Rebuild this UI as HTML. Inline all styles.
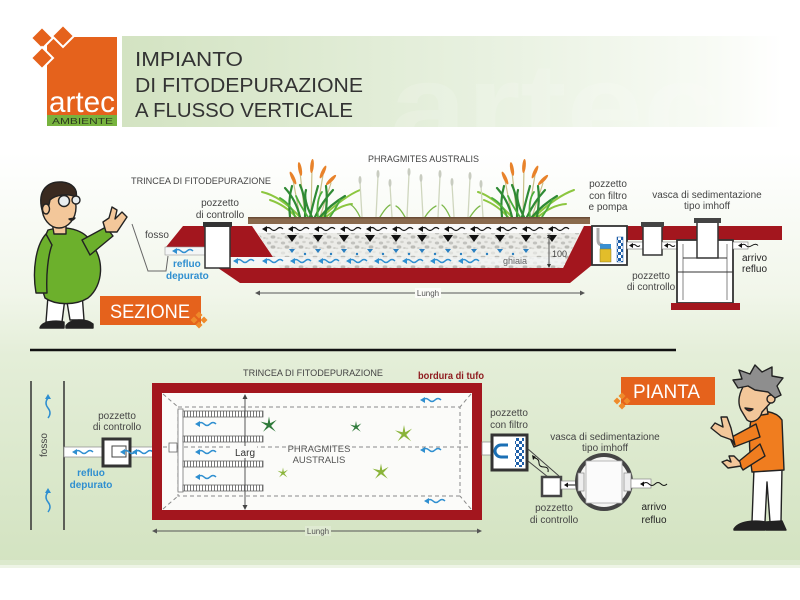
<!DOCTYPE html>
<html><head><meta charset="utf-8"><style>
html,body{margin:0;padding:0;background:#fff;}
svg{display:block;}
text{font-family:"Liberation Sans",sans-serif;}
</style></head><body>
<svg width="800" height="600" viewBox="0 0 800 600" xmlns="http://www.w3.org/2000/svg">
<defs>
<linearGradient id="bg" x1="0" y1="0" x2="0" y2="1">
<stop offset="0" stop-color="#ffffff"/><stop offset="0.27" stop-color="#ffffff"/>
<stop offset="0.52" stop-color="#f1f6ea"/><stop offset="0.63" stop-color="#e4eed8"/>
<stop offset="1" stop-color="#d3e3c1"/></linearGradient>
<linearGradient id="ban" x1="0" y1="0" x2="1" y2="0">
<stop offset="0" stop-color="#d3e3c2"/><stop offset="0.55" stop-color="#e8f1e0"/>
<stop offset="0.9" stop-color="#f8fbf5"/><stop offset="1" stop-color="#ffffff"/></linearGradient>
<pattern id="gr" width="14" height="10" patternUnits="userSpaceOnUse"><rect width="14" height="10" fill="#ebebe7"/><ellipse cx="3" cy="3" rx="2.2" ry="1.5" fill="#c2c2be"/><ellipse cx="10" cy="2" rx="1.8" ry="1.2" fill="#d2d2cd"/><ellipse cx="7" cy="7" rx="2.4" ry="1.6" fill="#bbbbb6"/><ellipse cx="12.5" cy="8" rx="1.4" ry="1" fill="#cfcfca"/><ellipse cx="1" cy="8.5" rx="1.3" ry="1" fill="#d8d8d3"/></pattern>
<pattern id="tk" width="3" height="6" patternUnits="userSpaceOnUse"><rect width="3" height="6" fill="#fff"/><line x1="1.5" y1="0" x2="1.5" y2="6" stroke="#777" stroke-width="1"/></pattern>
<pattern id="ck" width="6" height="6" patternUnits="userSpaceOnUse"><rect width="6" height="6" fill="#fff"/><rect width="3" height="3" fill="#1e5fa8"/><rect x="3" y="3" width="3" height="3" fill="#1e5fa8"/></pattern>
<clipPath id="bedc"><path d="M252 224 L584 224 L563 268 L280 268 Z"/></clipPath>
<clipPath id="banc"><rect x="122" y="36" width="660" height="91"/></clipPath>
<g id="wb"><path d="M3 0 q3 -3 6 0 t6 0 t6 0" fill="none" stroke="#2f8fd0" stroke-width="1.5"/><path d="M0 0 l5 -3 v6z" fill="#2f8fd0"/></g>
<g id="wk"><path d="M3 0 q3 -3 6 0 t6 0 t6 0" fill="none" stroke="#111" stroke-width="1.2"/><path d="M0 0 l5 -3 v6z" fill="#111"/></g>
<g id="star"><path d="M0 -10 L1.5 -2 L9 -6 L2.5 1 L8 8 L0 2.5 L-7 8 L-2.5 1 L-10 -4 L-1.5 -2 Z"/></g>
<g id="dia"><path d="M0 -3.5 L3.5 0 L0 3.5 L-3.5 0 Z"/></g>
</defs>

<rect width="800" height="565" fill="url(#bg)"/>
<rect y="560" width="800" height="8" fill="#e2edd6" opacity="0.6"/>

<!-- header banner -->
<rect x="122" y="36" width="660" height="91" fill="url(#ban)"/>
<g clip-path="url(#banc)"><text x="390" y="150" font-size="125" font-weight="bold" fill="#ffffff" opacity="0.15" textLength="330" lengthAdjust="spacingAndGlyphs">artec</text></g>
<text x="135" y="66" font-size="20" fill="#333" textLength="108" lengthAdjust="spacingAndGlyphs">IMPIANTO</text>
<text x="135" y="92" font-size="20" fill="#333" textLength="228" lengthAdjust="spacingAndGlyphs">DI FITODEPURAZIONE</text>
<text x="135" y="117" font-size="20" fill="#333" textLength="218" lengthAdjust="spacingAndGlyphs">A FLUSSO VERTICALE</text>

<!-- logo -->
<rect x="47" y="37" width="70" height="78" fill="#e5621c"/>
<g fill="#e5621c" stroke="#fff" stroke-width="2">
<path d="M42 27 L53 38 L42 49 L31 38 Z"/><path d="M63 25 L74 36 L63 47 L52 36 Z"/><path d="M42 47 L53 58 L42 69 L31 58 Z"/>
</g>
<rect x="47" y="115" width="70" height="11" fill="#77b33e"/>
<text x="49" y="112" font-size="30" fill="#fff" font-family="Liberation Serif,serif" textLength="66" lengthAdjust="spacingAndGlyphs">artec</text>
<text x="52" y="124" font-size="8" fill="#2c3a20" textLength="61" lengthAdjust="spacingAndGlyphs">AMBIENTE</text>

<!-- ================= SEZIONE ================= -->
<text x="131" y="184" font-size="9.5" fill="#444" textLength="140" lengthAdjust="spacingAndGlyphs">TRINCEA DI FITODEPURAZIONE</text>
<text x="368" y="162" font-size="9.5" fill="#444" textLength="111" lengthAdjust="spacingAndGlyphs">PHRAGMITES AUSTRALIS</text>

<!-- plants -->
<g fill="none" stroke-linecap="round">
<g stroke="#c9c08a" stroke-width="1.2">
<path d="M300 217 L293 180"/><path d="M305 217 L300 172"/><path d="M311 217 L312 168"/><path d="M316 217 L323 175"/><path d="M320 217 L331 183"/>
<path d="M512 217 L505 180"/><path d="M517 217 L512 172"/><path d="M523 217 L524 168"/><path d="M528 217 L535 175"/><path d="M532 217 L543 183"/>
</g>
<g stroke="#8cc63f" stroke-width="2">
<path d="M300 217 Q280 196 262 192"/><path d="M322 217 Q345 196 360 190"/><path d="M296 217 Q285 205 270 200"/><path d="M326 217 Q340 205 352 204"/>
<path d="M512 217 Q492 196 478 192"/><path d="M534 217 Q557 196 574 190"/><path d="M508 217 Q497 205 484 200"/><path d="M538 217 Q552 205 566 204"/>
</g>
<g stroke="#2f8a34" stroke-width="2.2">
<path d="M300 217 Q296 200 285 188"/><path d="M305 217 Q306 198 300 185"/><path d="M310 217 Q314 200 318 186"/><path d="M315 217 Q322 202 333 190"/><path d="M320 217 Q330 205 345 196"/><path d="M290 217 Q288 200 292 186"/><path d="M325 217 Q328 200 326 186"/><path d="M312 217 Q303 200 306 190"/>
<path d="M512 217 Q508 200 497 188"/><path d="M517 217 Q518 198 512 185"/><path d="M522 217 Q526 200 530 186"/><path d="M527 217 Q534 202 545 190"/><path d="M532 217 Q542 205 557 196"/><path d="M502 217 Q500 200 504 186"/><path d="M537 217 Q540 200 538 186"/><path d="M524 217 Q515 200 518 190"/>
</g>
<g stroke="#4cae3c" stroke-width="1.8">
<path d="M295 217 Q292 205 280 198"/><path d="M318 217 Q316 200 322 192"/><path d="M308 217 Q300 205 296 196"/><path d="M330 217 Q336 208 340 200"/>
<path d="M507 217 Q504 205 492 198"/><path d="M530 217 Q528 200 534 192"/><path d="M520 217 Q512 205 508 196"/><path d="M542 217 Q548 208 552 200"/>
</g>
<g stroke="#cfd6be" stroke-width="1.3">
<path d="M362 217 L360 182"/><path d="M376 217 L378 176"/><path d="M392 217 L390 185"/><path d="M407 217 L409 174"/><path d="M423 217 L421 180"/><path d="M438 217 L440 176"/><path d="M454 217 L452 184"/><path d="M468 217 L470 178"/><path d="M483 217 L481 186"/>
</g>
<g stroke="#7cb84a" stroke-width="1.3">
<path d="M360 217 Q356 208 350 204"/><path d="M380 217 Q386 207 390 205"/><path d="M405 217 Q400 208 396 206"/><path d="M425 217 Q430 209 436 206"/><path d="M450 217 Q446 208 442 205"/><path d="M470 217 Q476 208 480 206"/>
</g>
</g>
<g fill="#e8822a">
<ellipse cx="293" cy="178" rx="1.8" ry="7" transform="rotate(-25 293 178)"/><ellipse cx="300" cy="169" rx="1.8" ry="7" transform="rotate(-10 300 169)"/><ellipse cx="312" cy="166" rx="1.8" ry="7" transform="rotate(5 312 166)"/><ellipse cx="323" cy="172" rx="1.8" ry="7" transform="rotate(25 323 172)"/><ellipse cx="331" cy="180" rx="1.8" ry="7" transform="rotate(45 331 180)"/>
<ellipse cx="505" cy="178" rx="1.8" ry="7" transform="rotate(-25 505 178)"/><ellipse cx="512" cy="169" rx="1.8" ry="7" transform="rotate(-10 512 169)"/><ellipse cx="524" cy="166" rx="1.8" ry="7" transform="rotate(5 524 166)"/><ellipse cx="535" cy="172" rx="1.8" ry="7" transform="rotate(25 535 172)"/><ellipse cx="543" cy="180" rx="1.8" ry="7" transform="rotate(45 543 180)"/>
</g>
<g fill="#c8ccc0">
<ellipse cx="360" cy="180" rx="1.5" ry="4"/><ellipse cx="378" cy="174" rx="1.5" ry="4"/><ellipse cx="390" cy="183" rx="1.5" ry="4"/><ellipse cx="409" cy="172" rx="1.5" ry="4"/><ellipse cx="421" cy="178" rx="1.5" ry="4"/><ellipse cx="440" cy="174" rx="1.5" ry="4"/><ellipse cx="452" cy="182" rx="1.5" ry="4"/><ellipse cx="470" cy="176" rx="1.5" ry="4"/><ellipse cx="481" cy="184" rx="1.5" ry="4"/>
</g>

<!-- soil strip -->
<rect x="248" y="217" width="342" height="7" fill="#8a6a4e"/>
<rect x="248" y="217" width="342" height="1.5" fill="#6a4c36"/>

<!-- red ground -->
<path d="M183 226 L205 226 L205 247 L166 247 Z" fill="#a3161e"/>
<path d="M230 226 L252 226 L273 257 L230 257 Z" fill="#a3161e"/>
<path d="M218 268 L563 268 L584 226 L592 226 L592 265 L570 283 L240 283 Z" fill="#a3161e"/>
<path d="M627 226 L782 226 L782 240 L627 240 Z" fill="#a3161e"/>

<!-- bed -->
<g clip-path="url(#bedc)">
<rect x="250" y="224" width="340" height="46" fill="url(#gr)"/>
<rect x="250" y="224" width="340" height="9" fill="#fafafa"/>
<rect x="250" y="249" width="340" height="7" fill="#f2f3f0" opacity="0.6"/>
</g>
<rect x="230" y="257" width="60" height="8" fill="#f4f6f6"/>
<rect x="290" y="257" width="275" height="8" fill="#f4f6f6" opacity="0.7"/>
<rect x="165" y="247" width="40" height="8" fill="#f4f6f6" stroke="#999" stroke-width="0.6"/>
<g>
<use href="#wk" x="262" y="229"/><use href="#wk" x="288" y="229"/><use href="#wk" x="314" y="229"/><use href="#wk" x="340" y="229"/><use href="#wk" x="366" y="229"/><use href="#wk" x="392" y="229"/><use href="#wk" x="418" y="229"/><use href="#wk" x="444" y="229"/><use href="#wk" x="470" y="229"/><use href="#wk" x="496" y="229"/><use href="#wk" x="522" y="229"/><use href="#wk" x="548" y="229"/>
</g>
<g fill="#111">
<path d="M287 235 h10 l-5 7z"/><path d="M313 235 h10 l-5 7z"/><path d="M339 235 h10 l-5 7z"/><path d="M365 235 h10 l-5 7z"/><path d="M391 235 h10 l-5 7z"/><path d="M417 235 h10 l-5 7z"/><path d="M443 235 h10 l-5 7z"/><path d="M469 235 h10 l-5 7z"/><path d="M495 235 h10 l-5 7z"/><path d="M521 235 h10 l-5 7z"/><path d="M547 235 h10 l-5 7z"/>
</g>
<g fill="#2a7fc0">
<path d="M289 249 h6 l-3 4z"/><path d="M315 249 h6 l-3 4z"/><path d="M341 249 h6 l-3 4z"/><path d="M367 249 h6 l-3 4z"/><path d="M393 249 h6 l-3 4z"/><path d="M419 249 h6 l-3 4z"/><path d="M445 249 h6 l-3 4z"/><path d="M471 249 h6 l-3 4z"/><path d="M497 249 h6 l-3 4z"/><path d="M523 249 h6 l-3 4z"/>
<circle cx="305" cy="254" r="1.2"/><circle cx="331" cy="254" r="1.2"/><circle cx="357" cy="254" r="1.2"/><circle cx="383" cy="254" r="1.2"/><circle cx="409" cy="254" r="1.2"/><circle cx="435" cy="254" r="1.2"/><circle cx="461" cy="254" r="1.2"/><circle cx="487" cy="254" r="1.2"/><circle cx="513" cy="254" r="1.2"/>
</g>
<g>
<use href="#wb" x="172" y="251"/><use href="#wb" x="233" y="261"/><use href="#wb" x="262" y="261"/><use href="#wb" x="290" y="261"/><use href="#wb" x="318" y="261"/><use href="#wb" x="346" y="261"/><use href="#wb" x="374" y="261"/><use href="#wb" x="402" y="261"/><use href="#wb" x="430" y="261"/><use href="#wb" x="458" y="261"/>
</g>

<!-- fosso (section) -->
<path d="M132 224 L148 271 L166 271 L168 256" fill="none" stroke="#666" stroke-width="1"/>
<text x="145" y="238" font-size="10" fill="#444">fosso</text>
<rect x="205" y="226" width="25" height="42" fill="#fff" stroke="#333" stroke-width="1.5"/>
<rect x="203" y="222" width="29" height="5" fill="#333"/>
<text x="220" y="206" font-size="10" fill="#444" text-anchor="middle">pozzetto</text>
<text x="220" y="218" font-size="10" fill="#444" text-anchor="middle">di controllo</text>
<text x="173" y="267" font-size="10" fill="#2f8fd0" font-weight="bold">refluo</text>
<text x="166" y="279" font-size="10" fill="#2f8fd0" font-weight="bold">depurato</text>

<!-- 100 & ghiaia -->
<line x1="549" y1="236" x2="549" y2="266" stroke="#333" stroke-width="0.8"/>
<path d="M549 234 l-2 4 h4z M549 268 l-2 -4 h4z" fill="#333"/>
<text x="552" y="257" font-size="9" fill="#444">100</text>
<text x="503" y="264" font-size="9" fill="#666">ghiaia</text>

<!-- Lungh section -->
<line x1="257" y1="293" x2="583" y2="293" stroke="#555" stroke-width="1"/>
<path d="M255 293 l5 -2.5 v5z M585 293 l-5 -2.5 v5z" fill="#555"/>
<rect x="415" y="288" width="26" height="10" fill="#fbfcf8"/>
<text x="428" y="296" font-size="8" fill="#555" text-anchor="middle">Lungh</text>

<!-- right section elements -->
<rect x="592" y="226" width="35" height="39" fill="#fff" stroke="#333" stroke-width="1.8"/>
<path d="M598 228 L598 240 Q598 245 603 245" fill="none" stroke="#aaa" stroke-width="3"/>
<rect x="600" y="244" width="11" height="5" fill="#3a8fd0"/>
<rect x="600" y="249" width="11" height="13" fill="#e2bd2a" stroke="#8a7a20" stroke-width="0.5"/>
<rect x="617" y="237" width="6" height="25" fill="url(#ck)" stroke="#1e5fa8" stroke-width="0.5"/>
<rect x="627" y="242" width="16" height="7" fill="#fff" stroke="#777" stroke-width="0.6"/>
<path d="M629 245.5 l4 -2.5 v5z" fill="#111"/><path d="M632 245.5 q2 -2 4 0 t4 0" fill="none" stroke="#111" stroke-width="1"/>
<rect x="643" y="226" width="19" height="29" fill="#fff" stroke="#333" stroke-width="1.5"/>
<rect x="641" y="222" width="23" height="5" fill="#444"/>
<rect x="662" y="242" width="15" height="7" fill="#fff" stroke="#777" stroke-width="0.6"/>
<path d="M664 245.5 l4 -2.5 v5z" fill="#111"/><path d="M667 245.5 q2 -2 4 0 t4 0" fill="none" stroke="#111" stroke-width="1"/>
<rect x="677" y="240" width="56" height="63" fill="#fff" stroke="#333" stroke-width="1.8"/>
<line x1="683" y1="244" x2="683" y2="300" stroke="#666" stroke-width="0.8"/>
<line x1="727" y1="244" x2="727" y2="300" stroke="#666" stroke-width="0.8"/>
<line x1="677" y1="272" x2="733" y2="272" stroke="#333" stroke-width="1"/>
<rect x="697" y="222" width="21" height="36" fill="#fff" stroke="#333" stroke-width="1.5"/>
<line x1="683" y1="258" x2="727" y2="258" stroke="#333" stroke-width="1"/>
<rect x="694" y="218" width="27" height="5" fill="#444"/>
<rect x="671" y="303" width="69" height="7" fill="#a3161e"/>
<rect x="733" y="242" width="15" height="7" fill="#fff" stroke="#777" stroke-width="0.6"/>
<path d="M738 245.5 l4 -2.5 v5z" fill="#111"/><path d="M741 245.5 q3 -2.5 5 0 t6 0 t6 0" fill="none" stroke="#111" stroke-width="1"/>
<text x="608" y="187" font-size="10" fill="#444" text-anchor="middle">pozzetto</text>
<text x="608" y="199" font-size="10" fill="#444" text-anchor="middle">con filtro</text>
<text x="608" y="210" font-size="10" fill="#444" text-anchor="middle">e pompa</text>
<text x="707" y="198" font-size="10" fill="#444" text-anchor="middle">vasca di sedimentazione</text>
<text x="707" y="209" font-size="10" fill="#444" text-anchor="middle">tipo imhoff</text>
<text x="742" y="261" font-size="10" fill="#222">arrivo</text>
<text x="742" y="272" font-size="10" fill="#222">refluo</text>
<text x="651" y="279" font-size="10" fill="#444" text-anchor="middle">pozzetto</text>
<text x="651" y="290" font-size="10" fill="#444" text-anchor="middle">di controllo</text>

<!-- SEZIONE label -->
<rect x="100" y="296" width="101" height="29" fill="#e5621c"/>
<text x="110" y="318" font-size="19" fill="#fff" textLength="80" lengthAdjust="spacingAndGlyphs">SEZIONE</text>
<g fill="#ef8a2a"><use href="#dia" x="199" y="315"/><use href="#dia" x="204" y="320"/><use href="#dia" x="199" y="325"/><use href="#dia" x="194" y="320"/></g>

<!-- man 1 -->
<g stroke="#222" stroke-width="1.4" stroke-linejoin="round">
<path d="M48 296 L46 322 L62 322 L65 298 Z" fill="#fff"/>
<path d="M66 296 L70 320 L84 320 L82 293 Z" fill="#fff"/>
<path d="M40 328 C 42 321, 56 320, 64 322 L 64 328 Z" fill="#222"/>
<path d="M66 326 C 70 319, 86 318, 93 324 L 93 328 L 66 328 Z" fill="#222"/>
<path d="M48 230 C 70 224, 88 232, 92 245 C 104 258, 104 285, 88 298 C 75 306, 55 305, 45 298 C 38 280, 38 250, 48 230 Z" fill="#6cb02c"/>
<path d="M46 234 C 36 245, 32 270, 36 293 L 47 293 C 46 275, 48 255, 52 245 Z" fill="#6cb02c"/>
<path d="M82 240 L 106 227 L 113 236 L 90 255 Z" fill="#6cb02c"/>
<path d="M106 232 L 103 222 L 109 218 L 112 207 L 117 210 L 115 219 L 122 212 L 127 217 L 117 232 Z" fill="#f3c79a"/>
<path d="M52 222 L 54 234 L 66 234 L 66 222 Z" fill="#f3c79a"/>
<ellipse cx="59" cy="207" rx="17" ry="21" fill="#f3c79a"/>
<path d="M42 210 C 37 190, 48 181, 62 182 C 73 183, 78 190, 76 197 C 67 193, 55 195, 50 200 L 47 214 Z" fill="#3a2a20"/>
<ellipse cx="46" cy="209" rx="3.5" ry="5" fill="#f3c79a"/>
<circle cx="64" cy="201" r="5.5" fill="#e9eef0"/><circle cx="76" cy="200" r="4" fill="#e9eef0"/>
<path d="M69 219 Q72 222 75 218 Z" fill="#7a1a1a"/>
</g>

<!-- divider -->
<line x1="30" y1="350" x2="676" y2="350" stroke="#111" stroke-width="2.5"/>

<!-- ================= PIANTA ================= -->
<line x1="31" y1="381" x2="31" y2="530" stroke="#333" stroke-width="1.5"/>
<line x1="64" y1="381" x2="64" y2="530" stroke="#333" stroke-width="1.5"/>
<g fill="none" stroke="#2f8fd0" stroke-width="1.5"><path d="M48 398 q-4 5 0 10 t0 10"/><path d="M48 492 q-4 5 0 10 t0 10"/></g>
<path d="M48 394 l-3 5 h6z M48 488 l-3 5 h6z" fill="#2f8fd0"/>
<text x="0" y="0" font-size="10" fill="#444" transform="translate(47 457) rotate(-90)">fosso</text>
<rect x="64" y="447" width="39" height="10" fill="#fff" stroke="#888" stroke-width="0.7"/>
<rect x="130" y="447" width="23" height="10" fill="#fff" stroke="#888" stroke-width="0.7"/>
<use href="#wb" x="72" y="452"/><use href="#wb" x="132" y="452"/>
<rect x="103" y="439" width="27" height="27" fill="#fff" stroke="#333" stroke-width="3"/>
<rect x="112" y="446" width="14" height="11" fill="none" stroke="#444" stroke-width="1"/>
<use href="#wb" x="120" y="452"/>
<text x="117" y="419" font-size="10" fill="#444" text-anchor="middle">pozzetto</text>
<text x="117" y="430" font-size="10" fill="#444" text-anchor="middle">di controllo</text>
<text x="91" y="476" font-size="10" fill="#2f8fd0" text-anchor="middle" font-weight="bold">refluo</text>
<text x="91" y="488" font-size="10" fill="#2f8fd0" text-anchor="middle" font-weight="bold">depurato</text>

<text x="243" y="376" font-size="9.5" fill="#444" textLength="140" lengthAdjust="spacingAndGlyphs">TRINCEA DI FITODEPURAZIONE</text>
<text x="418" y="379" font-size="10" fill="#8e1a1e" font-weight="bold" textLength="66" lengthAdjust="spacingAndGlyphs">bordura di tufo</text>

<rect x="152" y="383" width="330" height="137" fill="#a3161e"/>
<rect x="162" y="393" width="310" height="117" fill="#fbfbf9"/>
<g stroke="#8a8a8a" stroke-width="1" stroke-dasharray="4 3" fill="none">
<rect x="178" y="407" width="282" height="89"/>
<line x1="163" y1="394" x2="178" y2="407"/><line x1="471" y1="394" x2="460" y2="407"/>
<line x1="163" y1="509" x2="178" y2="496"/><line x1="471" y1="509" x2="460" y2="496"/>
<line x1="163" y1="447" x2="471" y2="447"/>
<line x1="482" y1="447" x2="492" y2="447"/>
</g>
<rect x="178" y="409" width="5" height="83" fill="#fff" stroke="#777" stroke-width="0.8"/>
<rect x="169" y="443" width="8" height="9" fill="#fff" stroke="#666" stroke-width="0.8"/>
<g stroke="#666" stroke-width="0.8">
<rect x="183" y="411" width="80" height="6" fill="url(#tk)"/>
<rect x="183" y="436" width="80" height="6" fill="url(#tk)"/>
<rect x="183" y="461" width="80" height="6" fill="url(#tk)"/>
<rect x="183" y="485" width="80" height="6" fill="url(#tk)"/>
</g>
<use href="#wb" x="195" y="424"/><use href="#wb" x="195" y="452"/><use href="#wb" x="195" y="477"/>
<use href="#wb" x="420" y="400"/><use href="#wb" x="420" y="450"/><use href="#wb" x="424" y="501"/>
<line x1="245" y1="396" x2="245" y2="508" stroke="#444" stroke-width="0.9"/>
<path d="M245 394 l-2.5 5 h5z M245 510 l-2.5 -5 h5z" fill="#444"/>
<rect x="233" y="446" width="24" height="12" fill="#fbfbf9"/>
<text x="245" y="456" font-size="10" fill="#333" text-anchor="middle">Larg</text>
<rect x="289" y="442" width="60" height="11" fill="#fbfbf9" opacity="0.6"/>
<text x="319" y="452" font-size="9.5" fill="#555" text-anchor="middle">PHRAGMITES</text>
<text x="319" y="463" font-size="9.5" fill="#555" text-anchor="middle">AUSTRALIS</text>
<g fill="#2e7a3a"><use href="#star" x="269" y="425" transform="translate(269 425) scale(0.85) translate(-269 -425)"/><use href="#star" x="356" y="427" transform="translate(356 427) scale(0.6) translate(-356 -427)"/></g>
<g fill="#8ab43a"><use href="#star" x="283" y="473" transform="translate(283 473) scale(0.55) translate(-283 -473)"/><use href="#star" x="381" y="472" transform="translate(381 472) scale(0.85) translate(-381 -472)"/><use href="#star" x="404" y="434" transform="translate(404 434) scale(0.9) translate(-404 -434)"/></g>

<!-- Lungh plan -->
<line x1="154" y1="531" x2="480" y2="531" stroke="#555" stroke-width="1"/>
<path d="M152 531 l5 -2.5 v5z M482 531 l-5 -2.5 v5z" fill="#555"/>
<rect x="305" y="526" width="26" height="10" fill="#dfead2"/>
<text x="318" y="534" font-size="8" fill="#555" text-anchor="middle">Lungh</text>

<!-- pozzetto con filtro plan -->
<rect x="482" y="442" width="10" height="13" fill="#fff" stroke="#888" stroke-width="0.7"/>
<rect x="492" y="435" width="35" height="35" fill="#fff" stroke="#333" stroke-width="3"/>
<path d="M508 445 h-7 a6 6 0 0 0 0 12 h7" fill="none" stroke="#1a6fb5" stroke-width="3"/>
<rect x="515" y="438" width="9" height="29" fill="url(#ck)"/>
<text x="509" y="416" font-size="10" fill="#444" text-anchor="middle">pozzetto</text>
<text x="509" y="428" font-size="10" fill="#444" text-anchor="middle">con filtro</text>
<path d="M528 449 L559 476 M528 461 L548 477" stroke="#444" stroke-width="1" fill="none"/>
<path d="M532 455 l1 5 l3 -3z" fill="#111"/><path d="M535 458 q4 1 4 5 t5 4 t4 5" fill="none" stroke="#111" stroke-width="1"/>
<rect x="542" y="477" width="19" height="19" fill="#fff" stroke="#444" stroke-width="2.5"/>
<rect x="561" y="481" width="17" height="8" fill="#fff" stroke="#888" stroke-width="0.7"/>
<path d="M564 485 l4 -2.5 v5z" fill="#111"/><line x1="568" y1="485" x2="576" y2="485" stroke="#111" stroke-width="1"/>
<circle cx="604" cy="482" r="27" fill="#f4f4f2" stroke="#444" stroke-width="4"/>
<rect x="586" y="461" width="36" height="42" fill="#fbfbfb" stroke="#aaa" stroke-width="0.8"/>
<rect x="578" y="473" width="6" height="18" fill="#eee" stroke="#888" stroke-width="0.7"/>
<rect x="624" y="473" width="7" height="18" fill="#eee" stroke="#888" stroke-width="0.7"/>
<rect x="631" y="479" width="20" height="9" fill="#fff" stroke="#888" stroke-width="0.7"/>
<path d="M640 484 l4 -2.5 v5z" fill="#111"/><path d="M643 484 q3 -3 6 0 t6 0 t6 0 t6 0" fill="none" stroke="#111" stroke-width="1"/>
<text x="605" y="440" font-size="10" fill="#444" text-anchor="middle">vasca di sedimentazione</text>
<text x="605" y="451" font-size="10" fill="#444" text-anchor="middle">tipo imhoff</text>
<text x="554" y="511" font-size="10" fill="#444" text-anchor="middle">pozzetto</text>
<text x="554" y="523" font-size="10" fill="#444" text-anchor="middle">di controllo</text>
<text x="654" y="510" font-size="10" fill="#222" text-anchor="middle">arrivo</text>
<text x="654" y="523" font-size="10" fill="#222" text-anchor="middle">refluo</text>

<!-- PIANTA label -->
<rect x="621" y="377" width="94" height="28" fill="#e5621c"/>
<text x="633" y="398" font-size="19" fill="#fff" textLength="67" lengthAdjust="spacingAndGlyphs">PIANTA</text>
<g fill="#ef8a2a"><use href="#dia" x="622" y="396"/><use href="#dia" x="627" y="401"/><use href="#dia" x="622" y="406"/><use href="#dia" x="617" y="401"/></g>

<!-- man 2 -->
<g stroke="#222" stroke-width="1.4" stroke-linejoin="round">
<path d="M754 468 L752 522 L765 522 L767 482 L770 522 L781 522 L782 468 Z" fill="#fff"/>
<path d="M734 529 C 739 521, 755 520, 765 522 L 765 530 L 734 530 Z" fill="#222"/>
<path d="M766 522 L 782 521 L 786 530 L 766 530 Z" fill="#222"/>
<path d="M752 415 C 762 409, 776 411, 782 420 L 784 470 L 752 472 C 749 450, 748 430, 752 415 Z" fill="#f07d1f"/>
<path d="M756 424 L 730 438 L 734 447 L 760 437 Z" fill="#f07d1f"/>
<path d="M760 444 L 738 462 L 743 470 L 765 456 Z" fill="#f07d1f"/>
<path d="M732 440 L 721 436 L 711 428 L 715 423 L 723 427 L 721 417 L 727 417 L 731 428 L 735 445 Z" fill="#f3c79a"/>
<path d="M741 466 L 728 468 L 722 462 L 727 460 L 731 462 L 729 456 L 734 456 L 740 462 Z" fill="#f3c79a"/>
<path d="M754 404 L 756 416 L 768 414 L 766 402 Z" fill="#f3c79a"/>
<path d="M746 382 C 739 392, 737 402, 741 410 L 747 420 C 752 424, 760 420, 762 412 L 773 400 L 768 386 Z" fill="#f3c79a"/>
<circle cx="771" cy="399" r="4" fill="#f3c79a"/>
<path d="M738 388 L 733 380 L 742 379 L 739 370 L 750 374 L 755 365 L 762 372 L 772 367 L 772 376 L 783 378 L 777 386 L 781 395 L 775 398 L 768 392 L 755 390 L 748 386 Z" fill="#8e8e8e"/>
<path d="M745 408 Q749 413 753 409 Z" fill="#7a1a1a"/>
</g>
</svg>
</body></html>
